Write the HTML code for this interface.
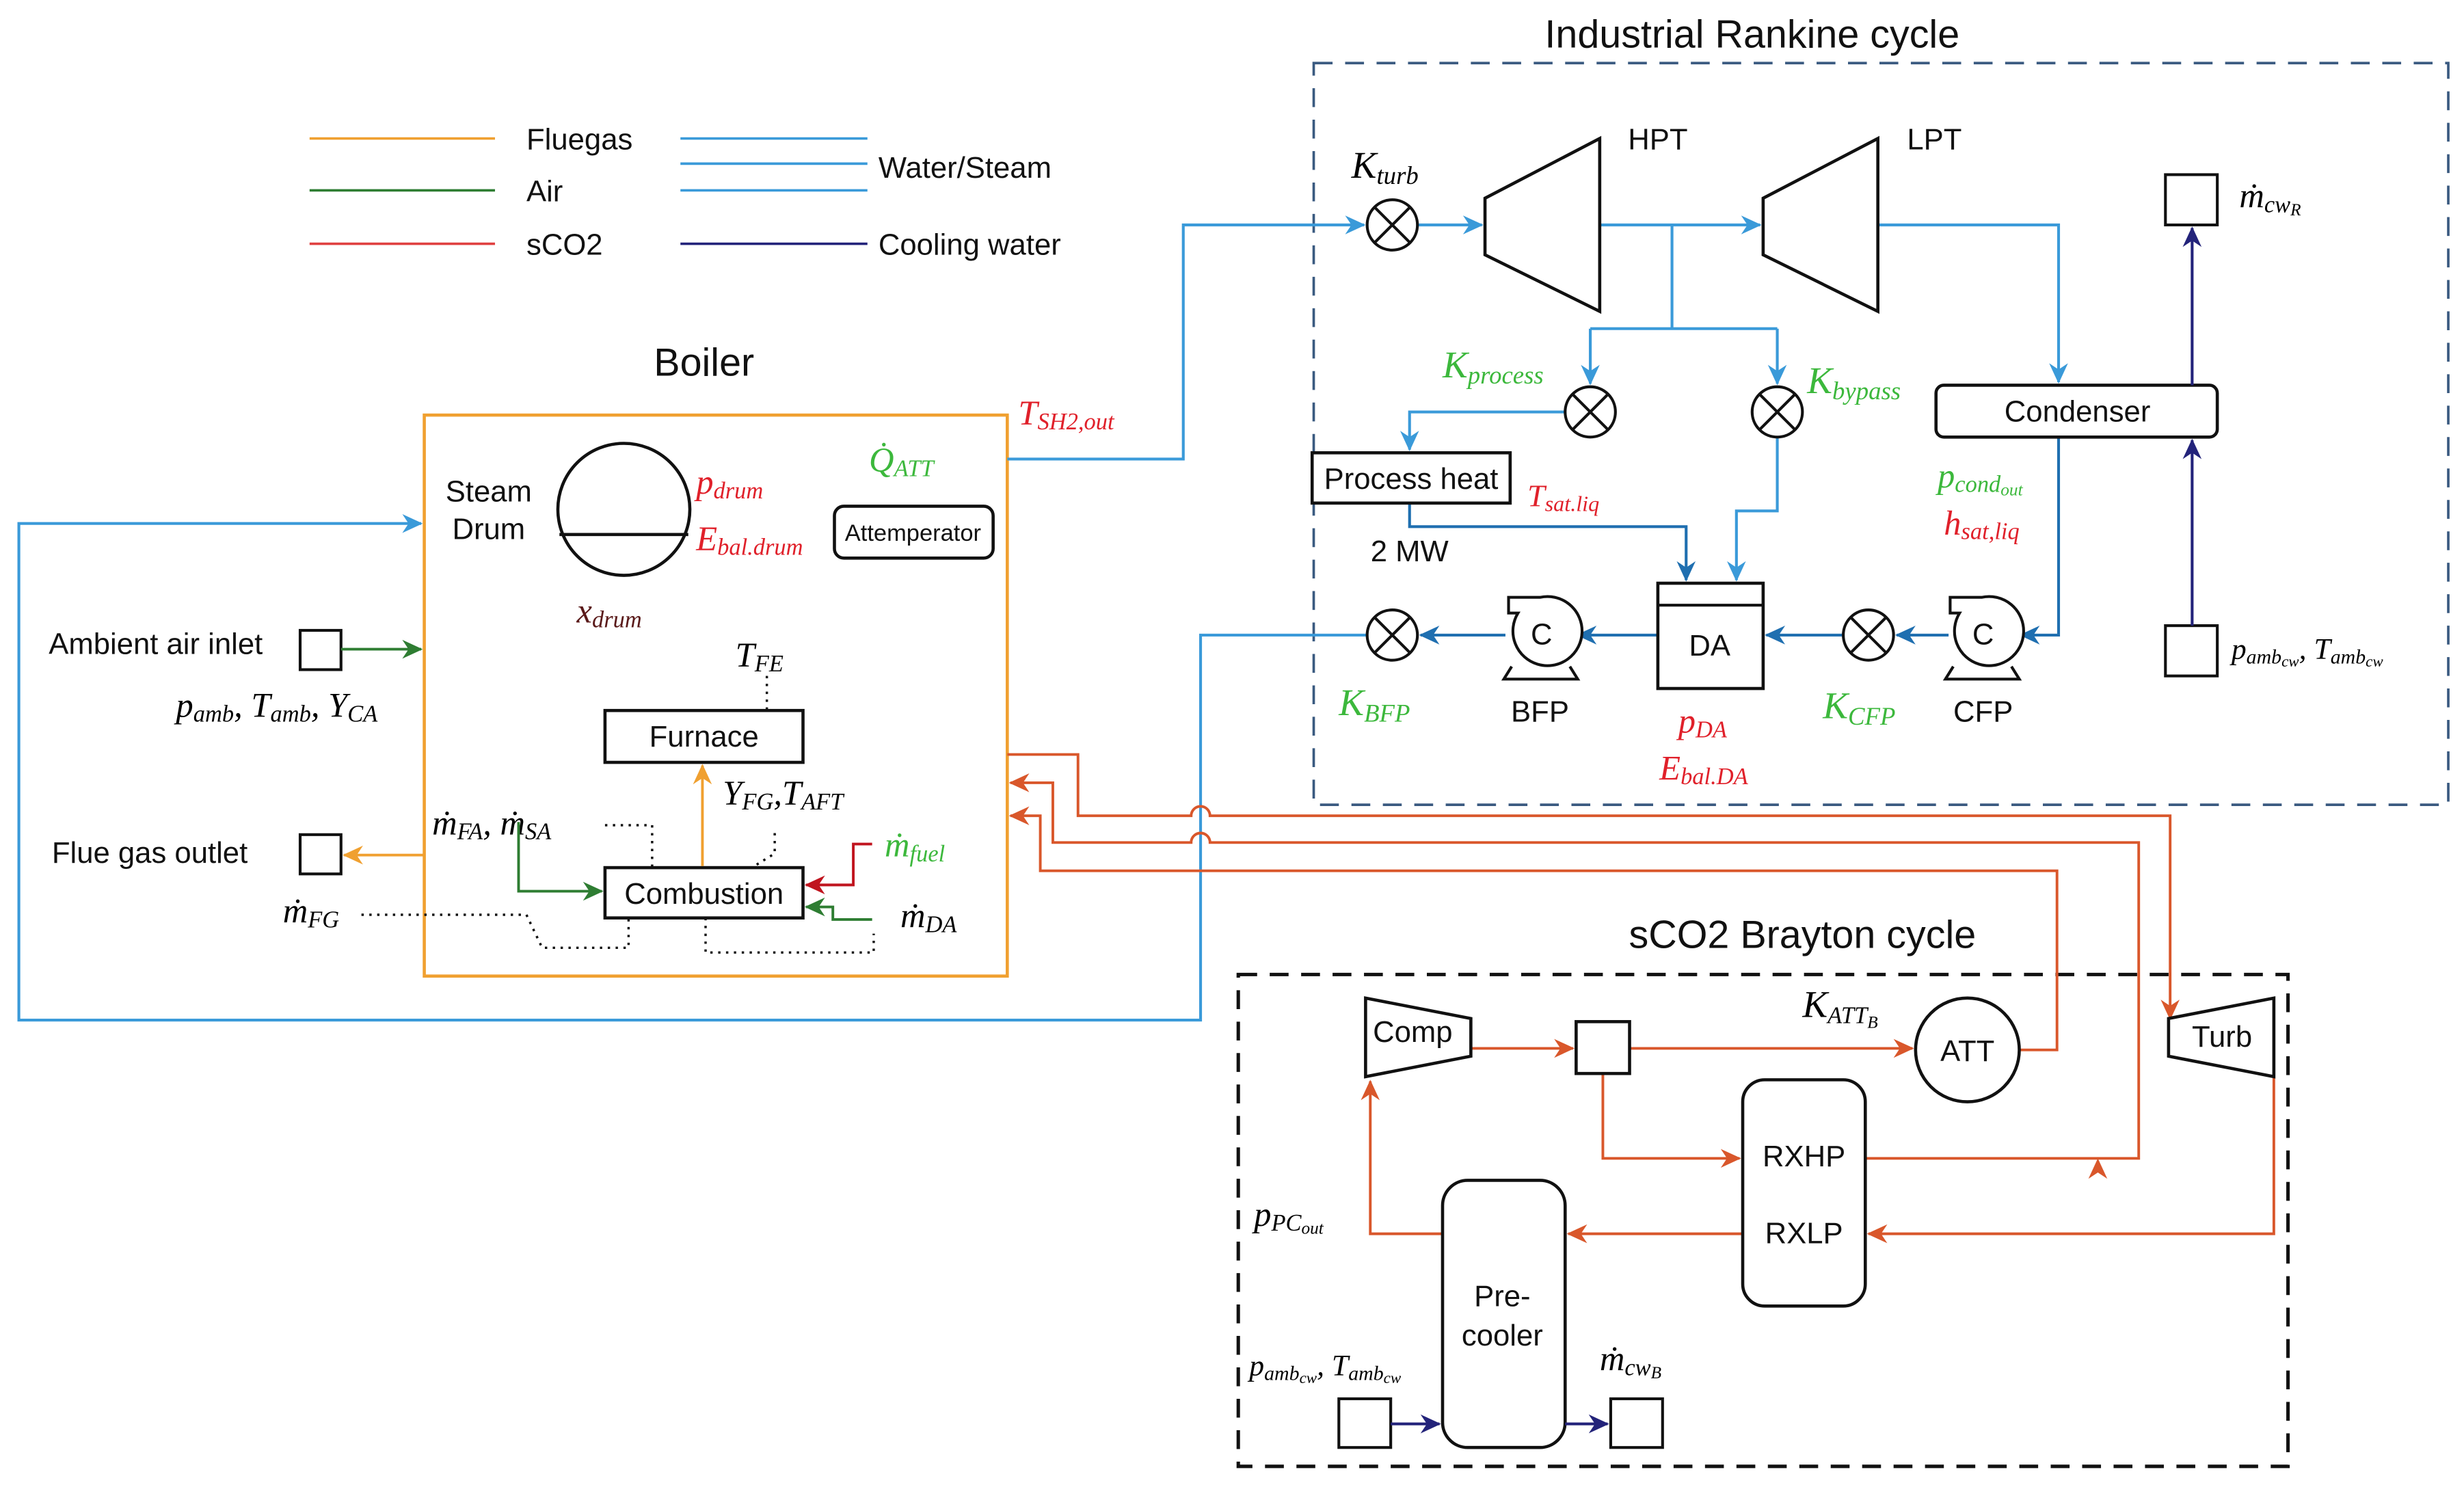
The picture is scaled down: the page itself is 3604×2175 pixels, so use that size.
<!DOCTYPE html>
<html><head><meta charset="utf-8"><style>
html,body{margin:0;padding:0;background:#fff;}
svg{display:block;}
.t{font-family:"Liberation Sans",sans-serif;fill:#111;}
.m{font-family:"Liberation Serif",serif;font-style:italic;}
</style></head><body>
<svg width="3604" height="2175" viewBox="0 0 1568 946" xmlns="http://www.w3.org/2000/svg">
<defs>
<marker id="ab" markerUnits="userSpaceOnUse" markerWidth="14" markerHeight="14" refX="12" refY="7" orient="auto"><path d="M0,1 L13,7 L0,13 L4,7z" fill="#3a9ad9"/></marker>
<marker id="ad" markerUnits="userSpaceOnUse" markerWidth="14" markerHeight="14" refX="12" refY="7" orient="auto"><path d="M0,1 L13,7 L0,13 L4,7z" fill="#1f6fb0"/></marker>
<marker id="ar" markerUnits="userSpaceOnUse" markerWidth="14" markerHeight="14" refX="12" refY="7" orient="auto"><path d="M0,1 L13,7 L0,13 L4,7z" fill="#d9572b"/></marker>
<marker id="ag" markerUnits="userSpaceOnUse" markerWidth="14" markerHeight="14" refX="12" refY="7" orient="auto"><path d="M0,1 L13,7 L0,13 L4,7z" fill="#2e7d32"/></marker>
<marker id="ao" markerUnits="userSpaceOnUse" markerWidth="14" markerHeight="14" refX="12" refY="7" orient="auto"><path d="M0,1 L13,7 L0,13 L4,7z" fill="#f0a030"/></marker>
<marker id="an" markerUnits="userSpaceOnUse" markerWidth="14" markerHeight="14" refX="12" refY="7" orient="auto"><path d="M0,1 L13,7 L0,13 L4,7z" fill="#23237a"/></marker>
<marker id="ax" markerUnits="userSpaceOnUse" markerWidth="14" markerHeight="14" refX="12" refY="7" orient="auto"><path d="M0,1 L13,7 L0,13 L4,7z" fill="#c0141e"/></marker>
</defs>

<!-- Legend -->
<g stroke-width="1.6">
<line x1="197" y1="88" x2="315" y2="88" stroke="#f0a030"/>
<line x1="197" y1="121" x2="315" y2="121" stroke="#2e7d32"/>
<line x1="197" y1="155" x2="315" y2="155" stroke="#e04040"/>
<line x1="433" y1="88" x2="552" y2="88" stroke="#3a9ad9"/>
<line x1="433" y1="104" x2="552" y2="104" stroke="#3a9ad9"/>
<line x1="433" y1="121" x2="552" y2="121" stroke="#3a9ad9"/>
<line x1="433" y1="155" x2="552" y2="155" stroke="#23237a"/>
</g>
<g class="t" font-size="19">
<text x="335" y="95">Fluegas</text>
<text x="335" y="128">Air</text>
<text x="335" y="162">sCO2</text>
<text x="559" y="113">Water/Steam</text>
<text x="559" y="162">Cooling water</text>
</g>

<!-- Titles -->
<text class="t" x="1115" y="30" font-size="25" text-anchor="middle">Industrial Rankine cycle</text>
<text class="t" x="448" y="239" font-size="25" text-anchor="middle">Boiler</text>
<text class="t" x="1147" y="603" font-size="25" text-anchor="middle">sCO2 Brayton cycle</text>

<!-- Dashed boxes -->
<rect x="836" y="40" width="722" height="472" fill="none" stroke="#3a5a80" stroke-width="1.6" stroke-dasharray="12,8"/>
<rect x="788" y="620" width="668" height="313" fill="none" stroke="#111" stroke-width="2.2" stroke-dasharray="12,8"/>

<!-- Boiler box -->
<rect x="270" y="264" width="371" height="357" fill="none" stroke="#f0a030" stroke-width="2"/>

<!-- Blue feedwater loop -->
<path d="M870,404 L764,404 L764,649 L12,649 L12,333 L268,333" fill="none" stroke="#3a9ad9" stroke-width="1.8" marker-end="url(#ab)"/>
<path d="M641,292 L753,292 L753,143 L868,143" fill="none" stroke="#3a9ad9" stroke-width="1.8" marker-end="url(#ab)"/>

<!-- sCO2 lines -->
<g fill="none" stroke="#d9572b" stroke-width="1.7">
<path d="M641,480 L686,480 L686,519 L758,519 A6,6 0 0 1 770,519 L1381,519 L1381,648" marker-end="url(#ar)"/>
<path d="M1187,737 L1361,737 L1361,536 L770,536 A6,6 0 0 0 758,536 L670,536 L670,498 L643,498" marker-end="url(#ar)"/>
<path d="M1285,668 L1309,668 L1309,554 L662,554 L662,519 L643,519" marker-end="url(#ar)"/>
<path d="M936,667 L1001,667" marker-end="url(#ar)"/>
<path d="M1037,667 L1217,667" marker-end="url(#ar)"/>
<path d="M1020,683 L1020,737 L1107,737" marker-end="url(#ar)"/>
<path d="M1447,660 L1447,785 L1189,785" marker-end="url(#ar)"/>
<path d="M1109,785 L998,785" marker-end="url(#ar)"/>
<path d="M918,785 L872,785 L872,688" marker-end="url(#ar)"/>
</g>
<path d="M1329,750 L1335,737 L1341,750 L1335,746z" fill="#d9572b"/>

<!-- Steam drum -->
<circle cx="397" cy="324" r="42" fill="#fff" stroke="#111" stroke-width="2"/>
<line x1="356" y1="340" x2="438" y2="340" stroke="#111" stroke-width="2"/>
<text class="t" x="311" y="319" font-size="19" text-anchor="middle">Steam</text>
<text class="t" x="311" y="343" font-size="19" text-anchor="middle">Drum</text>
<rect x="531" y="322" width="101" height="33" rx="6" fill="#fff" stroke="#111" stroke-width="2"/>
<text class="t" x="581" y="344" font-size="15" text-anchor="middle">Attemperator</text>
<text class="m" x="443" y="314" font-size="22" fill="#e0202a">p<tspan font-size="15" dy="3">drum</tspan></text>
<text class="m" x="443" y="350" font-size="22" fill="#e0202a">E<tspan font-size="15" dy="3">bal.drum</tspan></text>
<text class="m" x="367" y="396" font-size="22" fill="#5a1a1a">x<tspan font-size="15" dy="3">drum</tspan></text>
<text class="m" x="553" y="300" font-size="22" fill="#3cb83c">Q̇<tspan font-size="15" dy="3">ATT</tspan></text>
<text class="m" x="648" y="270" font-size="22" fill="#e0202a">T<tspan font-size="15" dy="3">SH2,out</tspan></text>

<!-- Furnace / combustion -->
<rect x="385" y="452" width="126" height="33" fill="#fff" stroke="#111" stroke-width="2"/>
<text class="t" x="448" y="475" font-size="19" text-anchor="middle">Furnace</text>
<rect x="385" y="552" width="126" height="32" fill="#fff" stroke="#111" stroke-width="2"/>
<text class="t" x="448" y="575" font-size="19" text-anchor="middle">Combustion</text>
<line x1="447" y1="551" x2="447" y2="487" stroke="#f0a030" stroke-width="1.7" marker-end="url(#ao)"/>
<text class="m" x="468" y="424" font-size="22">T<tspan font-size="15" dy="3">FE</tspan></text>
<text class="m" x="460" y="512" font-size="22">Y<tspan font-size="15" dy="3">FG</tspan><tspan dy="-3">,T</tspan><tspan font-size="15" dy="3">AFT</tspan></text>
<text class="m" x="275" y="531" font-size="22">ṁ<tspan font-size="15" dy="3">FA</tspan><tspan dy="-3">, ṁ</tspan><tspan font-size="15" dy="3">SA</tspan></text>
<text class="m" x="563" y="545" font-size="22" fill="#3cb83c">ṁ<tspan font-size="15" dy="3">fuel</tspan></text>
<text class="m" x="573" y="590" font-size="22">ṁ<tspan font-size="15" dy="3">DA</tspan></text>
<text class="m" x="180" y="587" font-size="22">ṁ<tspan font-size="15" dy="3">FG</tspan></text>
<g fill="none" stroke="#111" stroke-width="1.5" stroke-dasharray="1.5,3.5">
<path d="M488,430 L488,452"/>
<path d="M385,525 L415,525 L415,552"/>
<path d="M493,530 L493,543 L480,551"/>
<path d="M230,582 L335,582 L345,603 L400,603 L400,584"/>
<path d="M449,584 L449,606 L556,606 L556,594"/>
</g>
<path d="M330,523 L330,567 L383,567" fill="none" stroke="#2e7d32" stroke-width="1.7" marker-end="url(#ag)"/>
<path d="M555,537 L543,537 L543,563 L513,563" fill="none" stroke="#c0141e" stroke-width="1.7" marker-end="url(#ax)"/>
<path d="M555,585 L530,585 L530,577 L513,577" fill="none" stroke="#2e7d32" stroke-width="1.7" marker-end="url(#ag)"/>

<!-- ambient inlet / flue outlet -->
<text class="t" x="31" y="416" font-size="19">Ambient air inlet</text>
<rect x="191" y="401" width="26" height="25" fill="#fff" stroke="#111" stroke-width="1.8"/>
<line x1="217" y1="413" x2="268" y2="413" stroke="#2e7d32" stroke-width="1.7" marker-end="url(#ag)"/>
<text class="m" x="112" y="456" font-size="22">p<tspan font-size="15" dy="3">amb</tspan><tspan dy="-3">, T</tspan><tspan font-size="15" dy="3">amb</tspan><tspan dy="-3">, Y</tspan><tspan font-size="15" dy="3">CA</tspan></text>
<text class="t" x="33" y="549" font-size="19">Flue gas outlet</text>
<rect x="191" y="531" width="26" height="25" fill="#fff" stroke="#111" stroke-width="1.8"/>
<line x1="270" y1="544" x2="219" y2="544" stroke="#f0a030" stroke-width="1.7" marker-end="url(#ao)"/>

<!-- Rankine -->
<g fill="none" stroke="#3a9ad9" stroke-width="1.8">
<path d="M902,143 L943,143" marker-end="url(#ab)"/>
<path d="M1018,143 L1120,143" marker-end="url(#ab)"/>
<path d="M1064,143 L1064,209"/>
<path d="M1012,209 L1131,209"/>
<path d="M1012,209 L1012,244" marker-end="url(#ab)"/>
<path d="M1131,209 L1131,244" marker-end="url(#ab)"/>
<path d="M996,262 L897,262 L897,286" marker-end="url(#ab)"/>
<path d="M1131,278 L1131,325 L1105,325 L1105,369" marker-end="url(#ab)"/>
<path d="M1195,143 L1310,143 L1310,243" marker-end="url(#ab)"/>
</g>
<g fill="none" stroke="#1f6fb0" stroke-width="1.8">
<path d="M897,320 L897,335 L1073,335 L1073,369" marker-end="url(#ad)"/>
<path d="M1310,278 L1310,404 L1286,404" marker-end="url(#ad)"/>
<path d="M1240,404 L1207,404" marker-end="url(#ad)"/>
<path d="M1173,404 L1124,404" marker-end="url(#ad)"/>
<path d="M1055,404 L1004,404" marker-end="url(#ad)"/>
<path d="M958,404 L904,404" marker-end="url(#ad)"/>
</g>

<!-- turbines -->
<path d="M945,126 L1018,88 L1018,198 L945,162z" fill="#fff" stroke="#111" stroke-width="2"/>
<path d="M1122,126 L1195,88 L1195,198 L1122,162z" fill="#fff" stroke="#111" stroke-width="2"/>
<text class="t" x="1055" y="95" font-size="19" text-anchor="middle">HPT</text>
<text class="t" x="1231" y="95" font-size="19" text-anchor="middle">LPT</text>

<!-- valves -->
<g fill="#fff" stroke="#111" stroke-width="1.8">
<circle cx="886" cy="143" r="16"/><path d="M875,132 L897,154 M897,132 L875,154"/>
<circle cx="1012" cy="262" r="16"/><path d="M1001,251 L1023,273 M1023,251 L1001,273"/>
<circle cx="1131" cy="262" r="16"/><path d="M1120,251 L1142,273 M1142,251 L1120,273"/>
<circle cx="886" cy="404" r="16"/><path d="M875,393 L897,415 M897,393 L875,415"/>
<circle cx="1189" cy="404" r="16"/><path d="M1178,393 L1200,415 M1200,393 L1178,415"/>
</g>
<text class="m" x="860" y="113" font-size="24">K<tspan font-size="16" dy="4">turb</tspan></text>
<text class="m" x="918" y="240" font-size="24" fill="#3cb83c">K<tspan font-size="16" dy="4">process</tspan></text>
<text class="m" x="1150" y="250" font-size="24" fill="#3cb83c">K<tspan font-size="16" dy="4">bypass</tspan></text>
<text class="m" x="852" y="455" font-size="24" fill="#3cb83c">K<tspan font-size="16" dy="4">BFP</tspan></text>
<text class="m" x="1160" y="457" font-size="24" fill="#3cb83c">K<tspan font-size="16" dy="4">CFP</tspan></text>

<rect x="835" y="288" width="126" height="32" fill="#fff" stroke="#111" stroke-width="2"/>
<text class="t" x="898" y="311" font-size="19" text-anchor="middle">Process heat</text>
<text class="t" x="897" y="357" font-size="19" text-anchor="middle">2 MW</text>
<text class="m" x="972" y="322" font-size="20" fill="#e0202a">T<tspan font-size="14" dy="3">sat.liq</tspan></text>

<rect x="1232" y="245" width="179" height="33" rx="5" fill="#fff" stroke="#111" stroke-width="2"/>
<text class="t" x="1322" y="268" font-size="19" text-anchor="middle">Condenser</text>
<text class="m" x="1233" y="310" font-size="22" fill="#3cb83c">p<tspan font-size="15" dy="3">cond</tspan><tspan font-size="11" dy="2">out</tspan></text>
<text class="m" x="1237" y="340" font-size="22" fill="#e0202a">h<tspan font-size="15" dy="3">sat,liq</tspan></text>

<!-- DA -->
<rect x="1055" y="371" width="67" height="67" fill="#fff" stroke="#111" stroke-width="2"/>
<line x1="1055" y1="385" x2="1122" y2="385" stroke="#111" stroke-width="1.8"/>
<text class="t" x="1088" y="417" font-size="19" text-anchor="middle">DA</text>
<text class="m" x="1068" y="466" font-size="22" fill="#e0202a">p<tspan font-size="15" dy="3">DA</tspan></text>
<text class="m" x="1056" y="496" font-size="22" fill="#e0202a">E<tspan font-size="15" dy="3">bal.DA</tspan></text>

<!-- pumps -->
<g fill="#fff" stroke="#111" stroke-width="1.8">
<path d="M962,424 L957,432 L1004,432 L999,424"/>
<path d="M960,380 L960,390 L966,390 A22,22 0 1 0 980,380 Z"/>
<path d="M1243,424 L1238,432 L1285,432 L1280,424"/>
<path d="M1241,380 L1241,390 L1247,390 A22,22 0 1 0 1261,380 Z"/>
</g>
<text class="t" x="981" y="410" font-size="19" text-anchor="middle">C</text>
<text class="t" x="1262" y="410" font-size="19" text-anchor="middle">C</text>
<text class="t" x="980" y="459" font-size="19" text-anchor="middle">BFP</text>
<text class="t" x="1262" y="459" font-size="19" text-anchor="middle">CFP</text>

<!-- cooling water Rankine -->
<rect x="1378" y="111" width="33" height="32" fill="#fff" stroke="#111" stroke-width="1.8"/>
<rect x="1378" y="398" width="33" height="32" fill="#fff" stroke="#111" stroke-width="1.8"/>
<line x1="1395" y1="245" x2="1395" y2="145" stroke="#23237a" stroke-width="1.8" marker-end="url(#an)"/>
<line x1="1395" y1="398" x2="1395" y2="280" stroke="#23237a" stroke-width="1.8" marker-end="url(#an)"/>
<text class="m" x="1425" y="132" font-size="22">ṁ<tspan font-size="15" dy="3">cw</tspan><tspan font-size="11" dy="2">R</tspan></text>
<text class="m" x="1420" y="419" font-size="19">p<tspan font-size="13" dy="3">amb</tspan><tspan font-size="10" dy="2">cw</tspan><tspan dy="-5">, T</tspan><tspan font-size="13" dy="3">amb</tspan><tspan font-size="10" dy="2">cw</tspan></text>

<!-- Brayton -->
<path d="M869,635 L936,648 L936,672 L869,685z" fill="#fff" stroke="#111" stroke-width="2"/>
<text class="t" x="899" y="663" font-size="19" text-anchor="middle">Comp</text>
<path d="M1380,648 L1447,635 L1447,685 L1380,672z" fill="#fff" stroke="#111" stroke-width="2"/>
<text class="t" x="1414" y="666" font-size="19" text-anchor="middle">Turb</text>
<rect x="1003" y="650" width="34" height="33" fill="#fff" stroke="#111" stroke-width="2"/>
<circle cx="1252" cy="668" r="33" fill="#fff" stroke="#111" stroke-width="2"/>
<text class="t" x="1252" y="675" font-size="19" text-anchor="middle">ATT</text>
<text class="m" x="1147" y="647" font-size="24">K<tspan font-size="15" dy="4">ATT</tspan><tspan font-size="11" dy="3">B</tspan></text>
<rect x="1109" y="687" width="78" height="144" rx="14" fill="#fff" stroke="#111" stroke-width="2"/>
<text class="t" x="1148" y="742" font-size="19" text-anchor="middle">RXHP</text>
<text class="t" x="1148" y="791" font-size="19" text-anchor="middle">RXLP</text>
<rect x="918" y="751" width="78" height="170" rx="16" fill="#fff" stroke="#111" stroke-width="2"/>
<text class="t" x="956" y="831" font-size="19" text-anchor="middle">Pre-</text>
<text class="t" x="956" y="856" font-size="19" text-anchor="middle">cooler</text>
<text class="m" x="798" y="780" font-size="22">p<tspan font-size="15" dy="3">PC</tspan><tspan font-size="11" dy="2">out</tspan></text>
<rect x="852" y="890" width="33" height="31" fill="#fff" stroke="#111" stroke-width="1.8"/>
<rect x="1025" y="890" width="33" height="31" fill="#fff" stroke="#111" stroke-width="1.8"/>
<line x1="885" y1="906" x2="916" y2="906" stroke="#23237a" stroke-width="1.8" marker-end="url(#an)"/>
<line x1="996" y1="906" x2="1023" y2="906" stroke="#23237a" stroke-width="1.8" marker-end="url(#an)"/>
<text class="m" x="1018" y="872" font-size="22">ṁ<tspan font-size="15" dy="3">cw</tspan><tspan font-size="11" dy="2">B</tspan></text>
<text class="m" x="795" y="875" font-size="19">p<tspan font-size="13" dy="3">amb</tspan><tspan font-size="10" dy="2">cw</tspan><tspan dy="-5">, T</tspan><tspan font-size="13" dy="3">amb</tspan><tspan font-size="10" dy="2">cw</tspan></text>
</svg>
</body></html>
